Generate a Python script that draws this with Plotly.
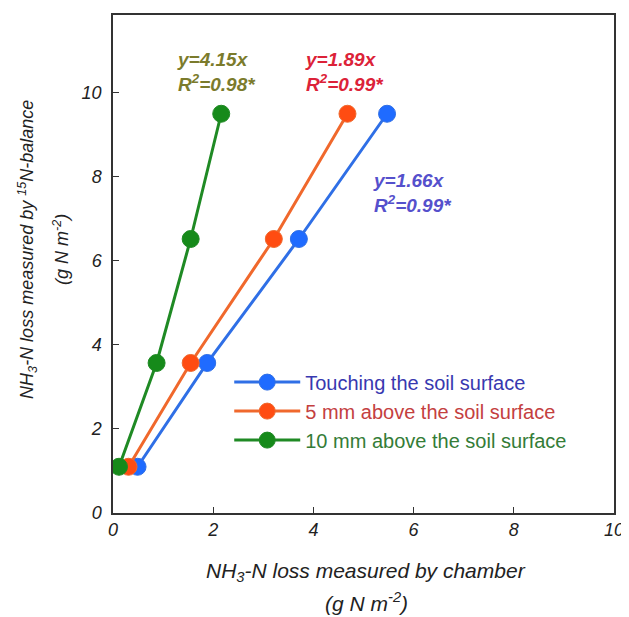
import plotly.graph_objects as go

# data
y_balance = [1.10, 3.57, 6.52, 9.50]
x_touching = [0.49, 1.88, 3.71, 5.47]
x_5mm = [0.31, 1.55, 3.21, 4.68]
x_10mm = [0.12, 0.87, 1.55, 2.16]

series_names = ["Touching the soil surface", "5 mm above the soil surface", "10 mm above the soil surface"]
line_colors = ["#2f6fe6", "#f0682c", "#1f8a24"]
marker_colors = ["#1f6bff", "#ff4c12", "#168a1a"]
text_colors = ["#3838b0", "#c4403f", "#347c37"]

eq_texts = ["y=1.66x<br>R<sup>2</sup>=0.99*", "y=1.89x<br>R<sup>2</sup>=0.99*", "y=4.15x<br>R<sup>2</sup>=0.98*"]
eq_colors = ["#5550cc", "#dc2238", "#7b7b2c"]
eq_x = [5.15, 3.80, 1.23]
eq_y = [7.62, 10.50, 10.50]

FONT = "Liberation Sans, Arial"

fig = go.Figure()
for xs, name, lc, mc, tc in zip([x_touching, x_5mm, x_10mm], series_names, line_colors, marker_colors, text_colors):
    fig.add_trace(go.Scatter(
        x=xs, y=y_balance, mode="lines+markers",
        name=f"<span style='color:{tc}'>{name}</span>",
        line=dict(color=lc, width=3),
        marker=dict(color=mc, size=17, line=dict(color=lc, width=1)),
    ))

for txt, col, ex, ey in zip(eq_texts, eq_colors, eq_x, eq_y):
    fig.add_annotation(x=ex, y=ey, xref="x", yref="y", text=txt, showarrow=False,
                       xanchor="left", yanchor="middle", align="left",
                       font=dict(family=FONT, size=19, color=col,
                                 weight="bold", style="italic"))

title_font_x = dict(family=FONT, size=21, color="#222", style="italic")
title_font_y = dict(family=FONT, size=18, color="#222", style="italic")
fig.add_annotation(x=0.505, y=-0.118, xref="paper", yref="paper", showarrow=False,
                   text="NH<sub>3</sub>-N loss measured by chamber",
                   xanchor="center", yanchor="middle", font=title_font_x)
fig.add_annotation(x=0.505, y=-0.179, xref="paper", yref="paper", showarrow=False,
                   text="(g N m<sup>-2</sup>)",
                   xanchor="center", yanchor="middle", font=title_font_x)
fig.add_annotation(x=-0.172, y=0.53, xref="paper", yref="paper", showarrow=False, textangle=-90,
                   text="NH<sub>3</sub>-N loss measured by <sup>15</sup>N-balance",
                   xanchor="center", yanchor="middle", font=title_font_y)
fig.add_annotation(x=-0.104, y=0.53, xref="paper", yref="paper", showarrow=False, textangle=-90,
                   text="(g N m<sup>-2</sup>)",
                   xanchor="center", yanchor="middle", font=title_font_y)

axis_common = dict(showline=True, linecolor="#333", linewidth=1.5, mirror=True,
                   ticks="inside", ticklen=6, tickcolor="#333", showgrid=False, zeroline=False,
                   tickfont=dict(family=FONT, size=18, color="#222", style="italic"))
fig.update_xaxes(range=[0, 10], tickvals=[0, 2, 4, 6, 8, 10], **axis_common)
fig.update_yaxes(range=[0, 11.85], tickvals=[0, 2, 4, 6, 8, 10], ticklabelstandoff=6, **axis_common)

fig.update_layout(
    width=621, height=609,
    margin=dict(l=105, r=11, t=5, b=104),
    paper_bgcolor="white", plot_bgcolor="white",
    showlegend=True,
    legend=dict(x=0.232, y=0.302, xanchor="left", yanchor="top", bgcolor="rgba(0,0,0,0)",
                font=dict(family=FONT, size=20), itemwidth=66,
                tracegroupgap=0),
)

fig.write_html("out.html")
